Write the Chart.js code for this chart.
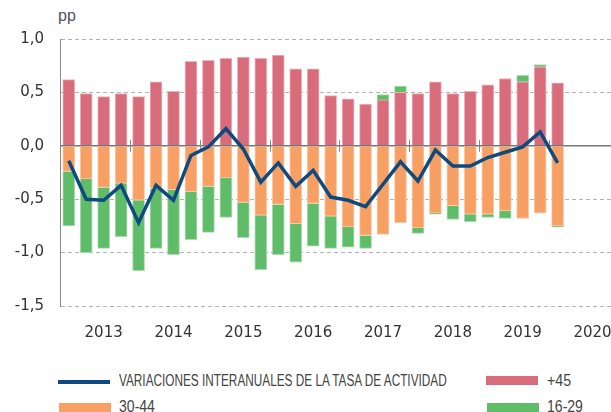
<!DOCTYPE html>
<html>
<head>
<meta charset="utf-8">
<script src="https://cdn.jsdelivr.net/npm/chart.js@4.4.0/dist/chart.umd.min.js"></script>
<style>
    html, body { margin: 0; padding: 0; background: #fff; overflow: hidden; }
    #wrap { position: relative; width: 611px; height: 412px; overflow: hidden; }
    #chartBox { position: absolute; left: 0; top: 0; width: 620px; height: 340px; }
    #unit { position: absolute; left: 58px; top: 7px; font: 16px "Liberation Sans", sans-serif; color: #555; }
    .sw { position: absolute; width: 52px; }
    .txt { position: absolute; white-space: nowrap; transform-origin: 0 50%;
           font: 16px "Liberation Sans", sans-serif; color: #444; line-height: 18px; }
</style>
</head>
<body>
<div id="wrap">
    <div id="unit">pp</div>
    <div id="chartBox"><canvas id="chart"></canvas></div>

    <div class="sw" style="left:58px; top:380px; height:4px; background:#0e4a80"></div>
    <div class="txt" data-w="328" style="left:119px; top:372px;">VARIACIONES INTERANUALES DE LA TASA DE ACTIVIDAD</div>
    <div class="sw" style="left:486px; top:376px; height:9px; background:#d86c7b"></div>
    <div class="txt" data-w="24" style="left:547px; top:372px;">+45</div>

    <div class="sw" style="left:59px; top:403px; height:10px; background:#f89f63"></div>
    <div class="txt" data-w="36" style="left:119px; top:398px;">30-44</div>
    <div class="sw" style="left:487px; top:403px; height:10px; background:#5fbc69"></div>
    <div class="txt" data-w="36" style="left:547px; top:398px;">16-29</div>
</div>
<script>
// --- Data (quarterly, pp) ---
const years = ['2013', '2014', '2015', '2016', '2017', '2018', '2019', '2020'];
const quarters = [
    '2013T1', '2013T2', '2013T3', '2013T4', '2014T1', '2014T2', '2014T3', '2014T4',
    '2015T1', '2015T2', '2015T3', '2015T4', '2016T1', '2016T2', '2016T3', '2016T4',
    '2017T1', '2017T2', '2017T3', '2017T4', '2018T1', '2018T2', '2018T3', '2018T4',
    '2019T1', '2019T2', '2019T3', '2019T4', '2020T1', '2020T2', '2020T3', '2020T4'
];
const over45 = [0.62, 0.49, 0.46, 0.49, 0.46, 0.60, 0.51, 0.79, 0.80, 0.82, 0.83, 0.82, 0.85, 0.72, 0.72,
    0.47, 0.44, 0.39, 0.43, 0.50, 0.49, 0.60, 0.49, 0.51, 0.57, 0.63, 0.60, 0.74, 0.59];
const age30to44 = [-0.24, -0.31, -0.39, -0.35, -0.51, -0.40, -0.41, -0.43, -0.38, -0.30, -0.53, -0.65, -0.55, -0.73, -0.54,
    -0.66, -0.76, -0.84, -0.83, -0.72, -0.77, -0.63, -0.56, -0.64, -0.64, -0.61, -0.68, -0.63, -0.75];
const age16to29 = [-0.51, -0.69, -0.57, -0.50, -0.66, -0.56, -0.61, -0.45, -0.43, -0.37, -0.33, -0.51, -0.47, -0.36, -0.40,
    -0.30, -0.19, -0.12, 0.05, 0.06, -0.05, -0.01, -0.13, -0.07, -0.03, -0.07, 0.06, 0.02, -0.01];
const activityRate = [-0.14, -0.50, -0.51, -0.37, -0.72, -0.37, -0.51, -0.09, -0.01, 0.16, -0.03, -0.34, -0.16, -0.38, -0.23,
    -0.48, -0.51, -0.57, -0.36, -0.15, -0.33, -0.04, -0.19, -0.19, -0.11, -0.06, -0.01, 0.13, -0.16];

// squeeze legend texts to look like the condensed face of the original
document.querySelectorAll('.txt').forEach(el => {
    const k = Number(el.dataset.w) / el.offsetWidth;
    el.style.transform = `scaleX(${k})`;
});

// small tick marks on the zero line at each year boundary
const yearTicks = {
    id: 'yearTicks',
    beforeDatasetsDraw(chart) {
        const { ctx, scales: { x, y } } = chart;
        const y0 = y.getPixelForValue(0);
        ctx.save();
        ctx.strokeStyle = '#888';
        ctx.lineWidth = 1;
        for (let i = 4; i < quarters.length; i += 4) {
            const px = Math.round((x.getPixelForValue(i - 1) + x.getPixelForValue(i)) / 2) + 0.5;
            ctx.beginPath();
            ctx.moveTo(px, y0 - 6);
            ctx.lineTo(px, y0 + 6);
            ctx.stroke();
        }
        ctx.restore();
    }
};

const barStyle = { barThickness: 12, borderWidth: 1, order: 1 };

new Chart(document.getElementById('chart'), {
    type: 'bar',
    data: {
        labels: quarters,
        datasets: [
            {
                type: 'line', label: 'VARIACIONES INTERANUALES DE LA TASA DE ACTIVIDAD', data: activityRate,
                borderColor: '#0e4a80', borderWidth: 3.5, pointRadius: 0, tension: 0, stack: 'line', order: 0
            },
            { label: '+45', data: over45, backgroundColor: '#d86c7b', borderColor: '#eeb3bb', ...barStyle },
            { label: '30-44', data: age30to44, backgroundColor: '#f89f63', borderColor: '#fbcaa6', ...barStyle },
            { label: '16-29', data: age16to29, backgroundColor: '#5fbc69', borderColor: '#acdcb1', ...barStyle }
        ]
    },
    options: {
        responsive: true,
        maintainAspectRatio: false,
        animation: false,
        layout: { padding: { top: 39, left: 0, right: 0, bottom: 0 } },
        plugins: { legend: { display: false }, tooltip: { enabled: false } },
        scales: {
            x: {
                stacked: true,
                grid: { display: false },
                border: { display: false },
                afterFit: axis => { axis.height = 34; },
                ticks: {
                    autoSkip: false, maxRotation: 0, padding: 10,
                    color: '#333', font: { family: 'DejaVu Sans', size: 15 },
                    callback: (v, i) => (i % 4 === 2 ? years[Math.floor(i / 4)] : '')
                }
            },
            y: {
                stacked: true,
                min: -1.5, max: 1.0,
                afterFit: axis => { axis.width = 60; },
                grid: {
                    drawTicks: false,
                    color: c => (c.tick && c.tick.value === 0 ? '#777' : '#b3b3b3'),
                    lineWidth: c => (c.tick && c.tick.value === 0 ? 1.5 : 1)
                },
                border: {
                    display: true, color: '#888', width: 1,
                    dash: c => (c.tick && c.tick.value === 0 ? [] : [4, 3])
                },
                ticks: {
                    stepSize: 0.5, padding: 16,
                    color: '#333', font: { family: 'DejaVu Sans', size: 15 },
                    callback: v => v.toFixed(1).replace('.', ',')
                }
            }
        }
    },
    plugins: [yearTicks]
});
</script>
</body>
</html>
